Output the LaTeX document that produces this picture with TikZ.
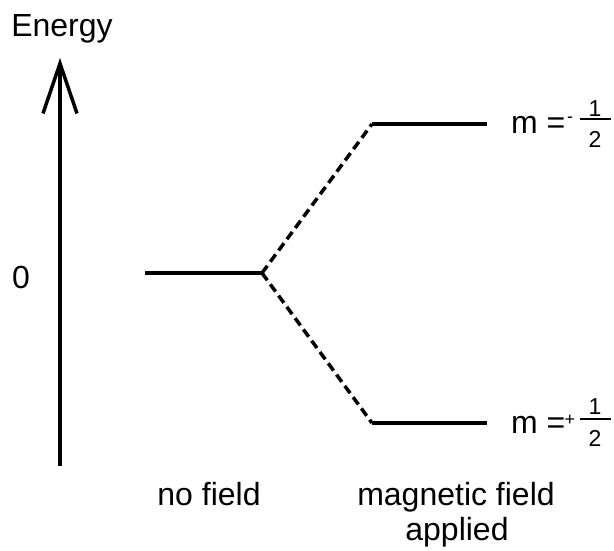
\documentclass[tikz,border=0pt]{standalone}
\usepackage{fontspec}
\setmainfont{Liberation Sans}
\usetikzlibrary{arrows.meta}
\begin{document}
\begin{tikzpicture}[x=1pt,y=-1pt,
  lab/.style={font=\fontsize{32}{36}\selectfont, inner sep=0pt},
  small/.style={font=\fontsize{23}{26}\selectfont, inner sep=0pt},
  sign/.style={font=\fontsize{18}{20}\selectfont, inner sep=0pt},
  level/.style={line width=3.5pt},
  trans/.style={line width=3.5pt, dash pattern=on 9pt off 5pt},
  axis/.style={line width=3.5pt, -{Straight Barb[length=50pt,width=34pt,line width=3.5pt]}}]
\useasboundingbox (0,0) rectangle (614,550);
% axis
\coordinate (ab) at (60,466);
\coordinate (at) at (60,58);
\draw[axis] (ab) -- (at);
\node[lab, anchor=base] (energy) at (62,36) {Energy};
\node[lab] (zero) at (21,277) {0};
% levels
\coordinate (z1) at (145,273);
\coordinate (z2) at (262,273);
\coordinate (u1) at (372,124);
\coordinate (u2) at (487,124);
\coordinate (l1) at (372,423);
\coordinate (l2) at (487,423);
\draw[level] (z1) -- (z2);
\draw[level] (u1) -- (u2);
\draw[level] (l1) -- (l2);
\draw[trans] (z2) -- (u1);
\draw[trans] (z2) -- (l1);
% labels m = -1/2
\node[lab, anchor=base west] (mup) at (511,133) {m =};
\node[sign] (sup) at (570,120) {-};
\node[small] (nup) at (595,109) {1};
\node[small] (dup) at (595,139) {2};
\draw[line width=1.2pt] (580,119) -- (611,119);
% m = +1/2
\node[lab, anchor=base west] (mlo) at (511,433) {m =};
\node[sign] (slo) at (570,420) {+};
\node[small] (nlo) at (595,407) {1};
\node[small] (dlo) at (595,438) {2};
\draw[line width=1.2pt] (580,419) -- (611,419);
% bottom labels
\node[lab, anchor=base] (nofield) at (209,505) {no field};
\node[lab, anchor=base] (mag) at (456,505) {magnetic field};
\node[lab, anchor=base] (app) at (457,540) {applied};
\end{tikzpicture}
\end{document}
